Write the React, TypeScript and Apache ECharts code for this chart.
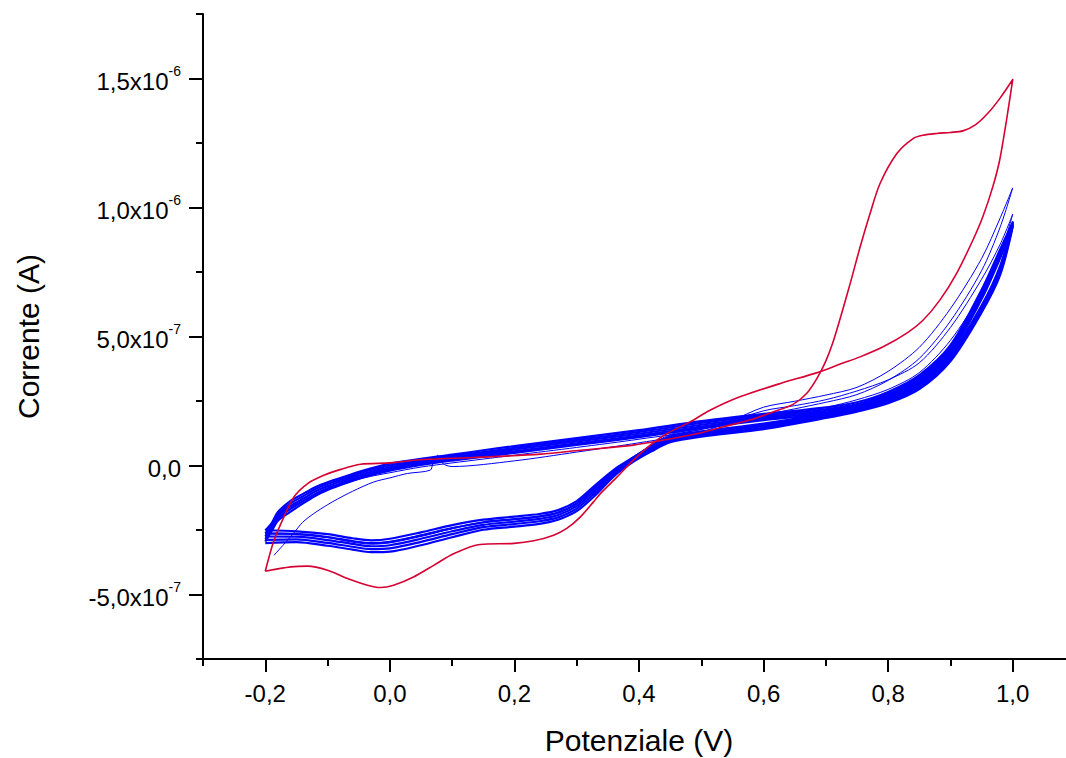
import React, { useEffect, useRef } from 'react';
import * as echarts from 'echarts';

const FONT = '"Liberation Sans", Arial, Helvetica, sans-serif';

// Axis ticks (x in V, y in units of 1e-7 A)
const xMajorTicks = [-0.2, 0, 0.2, 0.4, 0.6, 0.8, 1.0];
const xMinorTicks = [-0.3, -0.1, 0.1, 0.3, 0.5, 0.7, 0.9, 1.1];
const yMajorTicks = [-5, 0, 5, 10, 15];
const yMinorTicks = [-7.5, -2.5, 2.5, 7.5, 12.5, 17.5];
const yTickText = ['-5,0x10', '0,0', '5,0x10', '1,0x10', '1,5x10'];
const yTickExp = ['-7', '', '-7', '-6', '-6'];

// Red single cycle (potential V, current 1e-7 A)
const redPotential = [-0.2, -0.186, -0.17, -0.154, -0.132, -0.106, -0.079, -0.047, 0.0, 0.055, 0.135, 0.242, 0.306, 0.391, 0.445, 0.498, 0.535, 0.578, 0.616, 0.648, 0.669, 0.685, 0.699, 0.711, 0.723, 0.739, 0.755, 0.771, 0.787, 0.814, 0.84, 0.856, 0.878, 0.9, 0.92, 0.94, 0.96, 0.98, 1.0, 0.99, 0.979, 0.968, 0.952, 0.936, 0.91, 0.883, 0.856, 0.83, 0.792, 0.755, 0.723, 0.685, 0.627, 0.562, 0.514, 0.482, 0.445, 0.418, 0.391, 0.365, 0.338, 0.327, 0.306, 0.284, 0.263, 0.231, 0.199, 0.145, 0.103, 0.071, 0.038, 0.006, -0.015, -0.036, -0.068, -0.1, -0.132, -0.159, -0.2];
const redCurrent = [-4.1, -2.9, -1.99, -1.22, -0.7, -0.38, -0.15, 0.05, 0.1, 0.23, 0.31, 0.44, 0.59, 0.79, 1.01, 1.26, 1.5, 1.76, 2.08, 2.38, 2.79, 3.35, 4.0, 4.75, 5.7, 7.05, 8.47, 9.77, 10.93, 12.09, 12.67, 12.8, 12.87, 12.91, 12.97, 13.2, 13.65, 14.25, 14.96, 13.38, 11.83, 10.8, 9.64, 8.73, 7.45, 6.41, 5.63, 5.13, 4.6, 4.21, 3.93, 3.59, 3.18, 2.66, 2.14, 1.69, 1.24, 0.79, 0.21, -0.44, -1.09, -1.41, -1.99, -2.44, -2.7, -2.92, -3.02, -3.06, -3.41, -3.86, -4.32, -4.64, -4.73, -4.64, -4.38, -4.06, -3.9, -3.93, -4.1];

// Blue repeated cycles: shared potentials for forward and reverse sweeps
const bluePotFwd = [-0.2, -0.19, -0.18, -0.16, -0.14, -0.12, -0.1, -0.07, -0.04, 0, 0.05, 0.1, 0.15, 0.2, 0.3, 0.4, 0.5, 0.6, 0.65, 0.7, 0.75, 0.8, 0.85, 0.9, 0.95, 0.98, 1.0];
const bluePotRev = [0.98, 0.95, 0.9, 0.85, 0.8, 0.75, 0.7, 0.6, 0.5, 0.45, 0.42, 0.39, 0.36, 0.33, 0.3, 0.27, 0.24, 0.2, 0.15, 0.1, 0.05, 0.0, -0.03, -0.06, -0.1, -0.15, -0.2];

const band1Fwd = [-2.51, -2.24, -1.81, -1.38, -1.11, -0.84, -0.65, -0.41, -0.18, 0.07, 0.26, 0.42, 0.59, 0.75, 1.06, 1.37, 1.72, 2.0, 2.12, 2.25, 2.45, 2.85, 3.5, 4.66, 6.81, 8.38, 9.43];
const band1Rev = [7.75, 6.2, 4.3, 3.2, 2.62, 2.28, 2.02, 1.62, 1.32, 1.12, 0.75, 0.3, -0.16, -0.76, -1.38, -1.73, -1.88, -1.98, -2.1, -2.31, -2.59, -2.84, -2.9, -2.82, -2.66, -2.55, -2.51];
const band2Fwd = [-2.63, -2.32, -1.9, -1.48, -1.2, -0.92, -0.72, -0.48, -0.24, 0.0, 0.2, 0.36, 0.52, 0.68, 0.99, 1.3, 1.65, 1.94, 2.06, 2.18, 2.38, 2.78, 3.43, 4.58, 6.72, 8.3, 9.4];
const band2Rev = [7.66, 6.12, 4.23, 3.14, 2.57, 2.23, 1.97, 1.57, 1.27, 1.06, 0.7, 0.25, -0.22, -0.85, -1.47, -1.82, -1.97, -2.08, -2.2, -2.43, -2.71, -2.96, -3.01, -2.93, -2.77, -2.65, -2.63];
const band3Fwd = [-2.75, -2.4, -1.98, -1.58, -1.3, -1.01, -0.8, -0.55, -0.31, -0.07, 0.14, 0.3, 0.46, 0.62, 0.93, 1.23, 1.58, 1.88, 2.0, 2.12, 2.32, 2.72, 3.36, 4.5, 6.63, 8.21, 9.34];
const band3Rev = [7.58, 6.05, 4.17, 3.08, 2.52, 2.18, 1.93, 1.52, 1.22, 1.01, 0.65, 0.21, -0.29, -0.95, -1.57, -1.92, -2.07, -2.18, -2.3, -2.55, -2.84, -3.09, -3.13, -3.04, -2.89, -2.76, -2.75];
const band4Fwd = [-2.85, -2.48, -2.06, -1.69, -1.39, -1.1, -0.88, -0.62, -0.38, -0.14, 0.08, 0.24, 0.4, 0.55, 0.86, 1.16, 1.51, 1.82, 1.94, 2.06, 2.26, 2.66, 3.29, 4.42, 6.54, 8.13, 9.29];
const band4Rev = [7.49, 5.99, 4.1, 3.02, 2.46, 2.13, 1.88, 1.46, 1.17, 0.95, 0.6, 0.17, -0.35, -1.05, -1.67, -2.01, -2.16, -2.27, -2.39, -2.66, -2.96, -3.21, -3.24, -3.15, -3.0, -2.86, -2.88];
const band5Fwd = [-2.95, -2.55, -2.15, -1.8, -1.48, -1.18, -0.95, -0.68, -0.44, -0.2, 0.02, 0.19, 0.34, 0.49, 0.8, 1.1, 1.45, 1.76, 1.88, 2.0, 2.2, 2.6, 3.22, 4.35, 6.45, 8.05, 9.25];
const band5Rev = [7.4, 5.93, 4.04, 2.96, 2.41, 2.09, 1.84, 1.41, 1.12, 0.9, 0.55, 0.13, -0.41, -1.15, -1.77, -2.1, -2.26, -2.37, -2.49, -2.78, -3.09, -3.34, -3.36, -3.26, -3.11, -2.97, -3.01];
const cycleBFwd = [-2.65, -2.35, -1.95, -1.62, -1.38, -1.12, -0.92, -0.68, -0.47, -0.28, -0.06, 0.1, 0.25, 0.4, 0.7, 1.02, 1.4, 2.12, 2.32, 2.55, 2.89, 3.32, 3.98, 5.35, 7.22, 8.58, 9.74];
const cycleBRev = [8.2, 6.7, 4.85, 3.6, 2.95, 2.55, 2.25, 1.8, 1.4, 1.15, 0.78, 0.33, -0.2, -0.85, -1.48, -1.82, -1.97, -2.08, -2.2, -2.42, -2.7, -2.95, -3.0, -2.93, -2.78, -2.65, -2.62];

// First blue cycle (with the small glitch near 0.07 V)
const cycleAPotential = [-0.186, -0.17, -0.155, -0.14, -0.122, -0.1, -0.084, -0.06, -0.026, 0.0, 0.028, 0.065, 0.069, 0.077, 0.082, 0.09, 0.1, 0.2, 0.3, 0.4, 0.5, 0.55, 0.6, 0.65, 0.7, 0.75, 0.8, 0.85, 0.9, 0.95, 0.98, 1.0, 0.98, 0.95, 0.9, 0.85, 0.8, 0.75, 0.7, 0.6, 0.5, 0.45, 0.42, 0.39, 0.36, 0.33, 0.3, 0.27, 0.24, 0.2, 0.15, 0.1, 0.05, 0.0, -0.03, -0.06, -0.1, -0.15, -0.2];
const cycleACurrent = [-3.48, -3.05, -2.64, -2.2, -1.86, -1.52, -1.3, -1.0, -0.64, -0.48, -0.31, -0.18, 0.08, 0.4, 0.15, 0.01, -0.04, 0.18, 0.52, 0.88, 1.3, 1.75, 2.26, 2.49, 2.73, 3.03, 3.65, 4.58, 6.08, 8.02, 9.6, 10.76, 9.25, 7.55, 5.6, 4.15, 3.3, 2.75, 2.45, 1.95, 1.45, 1.2, 0.8, 0.3, -0.25, -0.9, -1.5, -1.85, -2.0, -2.1, -2.22, -2.45, -2.75, -3.0, -3.05, -2.97, -2.8, -2.68, -2.65];

const zip = (p: number[], c: number[]) => p.map((v, i) => [v, c[i]]);
const loop = (fwd: number[], rev: number[]) => [...zip(bluePotFwd, fwd), ...zip(bluePotRev, rev)];

const BLUE = '#0000ff';
const RED = '#d60032';

export default function App() {
  const ref = useRef<HTMLDivElement>(null);
  useEffect(() => {
    if (!ref.current) return;
    const chart = echarts.init(ref.current, undefined, { renderer: 'svg' });
    const tickStyle = { color: '#000', width: 2 };
    const xFmt = (v: number) => (Math.abs(v) < 1e-9 ? 0 : v).toFixed(1).replace('.', ',');
    const yFmt = (v: number) => {
      const i = yMajorTicks.findIndex((t) => Math.abs(t - v) < 1e-6);
      if (i < 0) return '';
      return `{m|${yTickText[i]}}` + (yTickExp[i] ? `{e|${yTickExp[i]}}` : '');
    };
    const blueLine = (name: string, data: number[][], width: number) => ({
      type: 'line',
      name,
      data,
      showSymbol: false,
      symbol: 'none',
      smooth: 0.3,
      lineStyle: { color: BLUE, width, join: 'round' },
      z: 2,
    });
    const option: any = {
      animation: false,
      backgroundColor: '#ffffff',
      grid: { left: 203, top: 14, width: 872, height: 645, outerBoundsMode: 'none', containLabel: false },
      xAxis: [
        {
          type: 'value', min: -0.3, max: 1.1, position: 'bottom',
          axisLine: { show: true, onZero: false, lineStyle: { color: '#000', width: 2 } },
          axisTick: { show: true, customValues: xMinorTicks, length: 7, lineStyle: tickStyle },
          axisLabel: { show: false },
          splitLine: { show: false },
        },
        {
          type: 'value', min: -0.3, max: 1.1, position: 'bottom',
          axisLine: { show: false, onZero: false },
          axisTick: { show: true, customValues: xMajorTicks, length: 13, lineStyle: tickStyle },
          axisLabel: { show: true, customValues: xMajorTicks, formatter: xFmt, margin: 22, fontSize: 24, color: '#000', fontFamily: FONT },
          splitLine: { show: false },
          name: 'Potenziale (V)', nameLocation: 'middle', nameGap: 66,
          nameTextStyle: { fontSize: 30, color: '#000', fontFamily: FONT },
        },
      ],
      yAxis: [
        {
          type: 'value', min: -7.5, max: 17.5, position: 'left',
          axisLine: { show: true, onZero: false, lineStyle: { color: '#000', width: 2 } },
          axisTick: { show: true, customValues: yMinorTicks, length: 7, lineStyle: tickStyle },
          axisLabel: { show: false },
          splitLine: { show: false },
        },
        {
          type: 'value', min: -7.5, max: 17.5, position: 'left',
          axisLine: { show: false, onZero: false },
          axisTick: { show: true, customValues: yMajorTicks, length: 14, lineStyle: tickStyle },
          axisLabel: {
            show: true, customValues: yMajorTicks, formatter: yFmt, margin: 22, align: 'right',
            rich: {
              m: { fontSize: 24, fontFamily: FONT, color: '#000', lineHeight: 30, verticalAlign: 'bottom' },
              e: { fontSize: 14, fontFamily: FONT, color: '#000', lineHeight: 9, verticalAlign: 'top' },
            },
          },
          splitLine: { show: false },
          name: 'Corrente (A)', nameLocation: 'middle', nameGap: 160, nameRotate: 90,
          nameTextStyle: { fontSize: 30, color: '#000', fontFamily: FONT },
        },
      ],
      series: [
        blueLine('cycle A', zip(cycleAPotential, cycleACurrent), 1),
        blueLine('cycle B', loop(cycleBFwd, cycleBRev), 1),
        blueLine('band 5', loop(band5Fwd, band5Rev), 2.2),
        blueLine('band 4', loop(band4Fwd, band4Rev), 2.2),
        blueLine('band 3', loop(band3Fwd, band3Rev), 2.2),
        blueLine('band 2', loop(band2Fwd, band2Rev), 2.2),
        blueLine('band 1', loop(band1Fwd, band1Rev), 2.2),
        {
          type: 'line', name: 'red', data: zip(redPotential, redCurrent),
          showSymbol: false, symbol: 'none', smooth: 0.3,
          lineStyle: { color: RED, width: 1.6, join: 'round' }, z: 3,
        },
      ],
    };
    chart.setOption(option);
    return () => chart.dispose();
  }, []);
  return (
    <div
      ref={ref}
      style={{ position: 'fixed', left: 0, top: 0, width: 1066, height: 758, background: '#fff' }}
    />
  );
}
